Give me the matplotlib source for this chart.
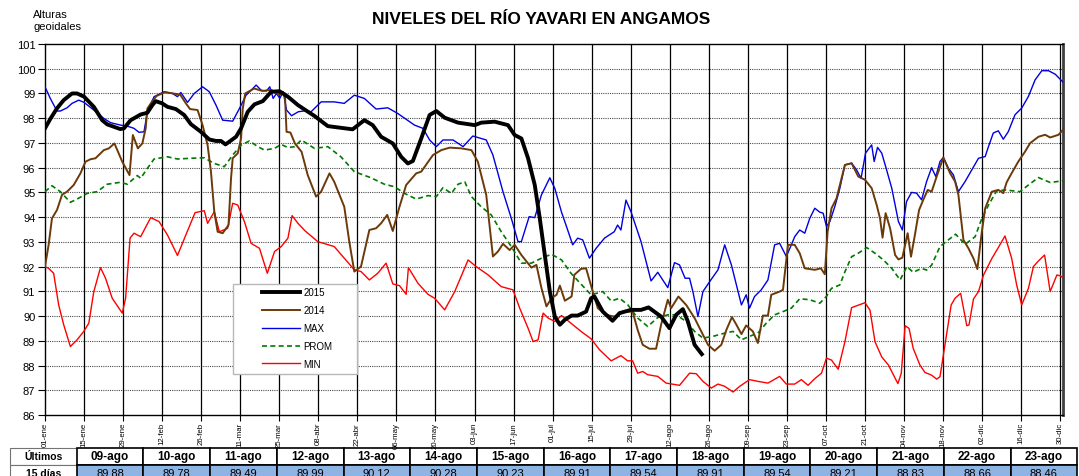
import numpy as np
from matplotlib import pyplot
from matplotlib.patches import Rectangle

pyplot.rcParams['font.family'] = ['Liberation Sans', 'DejaVu Sans']

# ---- data (day of year, level in m) ----
tick_labels = ['01-ene', '15-ene', '29-ene', '12-feb', '26-feb', '11-mar', '25-mar', '08-abr',
               '22-abr', '06-may', '20-may', '03-jun', '17-jun', '01-jul', '15-jul', '29-jul',
               '12-ago', '26-ago', '09-sep', '23-sep', '07-oct', '21-oct', '04-nov', '18-nov',
               '02-dic', '16-dic', '30-dic']

d2015 = [0, 2, 4.3, 6.7, 9.7, 11.5, 14, 17.5, 20.5, 22.3, 27, 28.3, 30.7, 34.3, 36.7, 38.5, 39.7,
         42, 43.9, 46.9, 49.9, 52.3, 55.9, 58.9, 61.3, 63.1, 64.7, 66.1, 68.5, 70.3, 72.7, 75.1,
         78.1, 81.1, 84.1, 87.1, 90.7, 94.3, 96.5, 101.4, 110.3, 114.5, 117.5, 120.5, 124.7, 127.7,
         130.1, 131.9, 134.9, 137.9, 140.3, 143.3, 148.1, 154.1, 156.4, 161.2, 166, 168.4, 170.8,
         173.2, 175.6, 177.4, 179.2, 181, 182.8, 184.6, 186.4, 188.8, 191, 194, 195.8, 197, 200,
         203.5, 206, 210.1, 213.7, 216.4, 220.9, 223.9, 226.3, 228.7, 230.5, 232.9, 235.5]
v2015 = [97.59, 97.99, 98.4, 98.73, 99.0, 99.0, 98.87, 98.46, 97.92, 97.75, 97.56, 97.59, 97.92,
         98.15, 98.22, 98.53, 98.69, 98.6, 98.46, 98.37, 98.13, 97.76, 97.45, 97.14, 97.08, 97.08,
         96.94, 97.05, 97.25, 97.59, 98.26, 98.56, 98.69, 99.07, 99.09, 98.87, 98.53, 98.26, 98.1,
         97.68, 97.55, 97.92, 97.72, 97.25, 96.98, 96.44, 96.17, 96.27, 97.18, 98.13, 98.29, 98.02,
         97.82, 97.72, 97.82, 97.86, 97.72, 97.32, 97.18, 96.38, 95.3, 93.95, 92.47, 91.0, 89.98,
         89.65, 89.85, 90.02, 90.02, 90.18, 90.72, 90.79, 90.18, 89.81, 90.12, 90.25, 90.25, 90.35,
         89.98, 89.51, 90.05, 90.28, 89.78, 88.84, 88.46]

d2014 = [0, 1.3, 2.5, 4.3, 6.1, 7.9, 10.3, 12.7, 14.5, 16.3, 18.1, 21.1, 22.9, 24.9, 27.7, 30.3,
         31.5, 33.3, 34.9, 36.1, 36.7, 38.5, 40, 43, 46, 48.5, 50.5, 52, 54.7, 56.5, 58.3, 59.5,
         60.7, 61.9, 63.7, 65.8, 66.7, 67.3, 69.1, 70.3, 70.9, 71.8, 75, 78, 81, 84, 86, 86.6, 88,
         89.6, 92, 94.2, 97.2, 99, 102, 103.7, 107.3, 109.1, 110.9, 113.3, 116.3, 118.7, 120.5,
         122.7, 124.7, 127.1, 129.5, 133.1, 134.9, 139.1, 142.1, 145.1, 149.3, 152.9, 155.2, 158.2,
         160.6, 162.4, 164.2, 166.6, 168.4, 170.8, 174.4, 176.2, 178, 179.8, 181.6, 183.4, 184.6,
         186.4, 188.8, 189.8, 192.2, 194, 196.4, 198.2, 201.1, 204.1, 207.7, 210.7, 212.5, 214.3,
         216.7, 219.1, 220.9, 223.3, 224.5, 227.1, 229.9, 232.9, 235.3, 237.7, 240.1, 242.5, 244.3,
         246.3, 247.9, 249.7, 251.4, 253.8, 255.6, 257.4, 259.2, 260.4, 263.4, 264.6, 266.4, 268.8,
         270.6, 272.4, 276, 278.2, 279.6, 280.6, 282, 283.8, 285.6, 286.8, 289.2, 291.6, 294, 296.4,
         298.2, 299.4, 300.3, 301.4, 303, 304.8, 306, 307.4, 309.3, 310.5, 311.9, 313.4, 314.9,
         316.5, 317.9, 319.7, 322.1, 324.5, 326.3, 327.5, 329.3, 331.1, 332.9, 334.3, 335.9, 337.1,
         339.5, 341.8, 343.6, 344.8, 346.6, 349, 351.4, 353.2, 356.2, 358.6, 360.4, 363.4, 365]
v2014 = [92.0, 92.88, 93.95, 94.29, 94.9, 95.03, 95.3, 95.77, 96.24, 96.34, 96.38, 96.71, 96.78,
         96.98, 96.24, 95.7, 97.32, 96.78, 96.98, 97.59, 98.39, 98.69, 98.9, 99.05, 99.0, 98.95,
         98.6, 98.37, 98.33, 97.72, 96.91, 95.84, 94.22, 93.41, 93.35, 93.68, 95.57, 96.38, 96.58,
         97.18, 98.39, 99.0, 99.2, 99.1, 99.15, 98.95, 99.0, 97.45, 97.42, 96.98, 96.64, 95.7,
         94.83, 95.03, 95.77, 95.43, 94.42, 93.01, 91.8, 92.0, 93.48, 93.55, 93.75, 94.09, 93.44,
         94.42, 95.3, 95.77, 95.84, 96.51, 96.71, 96.81, 96.78, 96.71, 96.24, 94.9, 92.41, 92.61,
         92.92, 92.67, 92.88, 92.47, 91.96, 92.07, 91.13, 90.39, 90.72, 90.86, 91.23, 90.62, 90.79,
         91.67, 91.91, 91.93, 90.99, 90.32, 90.05, 89.98, 90.18, 90.18, 89.44, 88.84, 88.68, 88.68,
         89.65, 90.66, 90.32, 90.79, 90.45, 89.92, 89.38, 88.84, 88.6, 88.84, 89.44, 89.96, 89.65,
         89.27, 89.62, 89.38, 88.91, 90.02, 90.02, 90.86, 90.99, 91.06, 92.88, 92.88, 92.54, 91.93,
         91.87, 91.93, 91.69, 93.41, 94.36, 94.76, 95.57, 96.11, 96.18, 95.64, 95.51, 95.17, 94.49,
         93.95, 93.17, 94.16, 93.55, 92.47, 92.29, 92.36, 93.35, 92.4, 93.28, 94.29, 94.7, 95.1,
         95.03, 95.64, 96.41, 95.78, 95.44, 94.9, 93.08, 92.74, 92.33, 91.9, 93.41, 94.36, 95.03,
         95.1, 94.97, 95.41, 95.78, 96.25, 96.65, 96.99, 97.25, 97.33, 97.22, 97.33, 97.53]

dmax = [0, 1.9, 4.3, 5.5, 7.9, 9.7, 12.1, 14, 17.5, 21.1, 23.5, 27.1, 29.5, 31.9, 33.7, 35.5,
        36.7, 39.1, 42.7, 45.7, 47.5, 48.7, 51.1, 53.5, 56.5, 58.9, 61.3, 63.7, 67.3, 69.7, 72.1,
        73.9, 75.7, 77.5, 79.4, 80.6, 81.8, 83, 84.2, 85.4, 86.6, 88.4, 90.8, 93.2, 95.4, 99,
        103.7, 107.3, 110.9, 114.5, 118.7, 122.9, 126.5, 132.5, 135.5, 137.9, 140.3, 142.7, 146.3,
        149.9, 153.4, 158.2, 160.6, 164.2, 167.2, 169.6, 170.8, 173.6, 175.6, 178, 181, 182.8,
        185.2, 186.8, 189.2, 191, 192.8, 195.2, 197.6, 200.6, 204.1, 205.3, 206.5, 208.3, 210.1,
        213.7, 217.3, 219.7, 223.3, 225.7, 227.5, 229.5, 231.1, 232.3, 234.1, 235.9, 238.3, 241.3,
        243.7, 246.1, 249.7, 251.4, 252.6, 254.4, 256.8, 259.2, 261.6, 263.4, 265.8, 267.6, 268.8,
        270.6, 272.4, 274.2, 276, 277.8, 279, 280.2, 281.4, 283.2, 285, 286.8, 289.2, 291, 292.6,
        294.2, 296.4, 297.3, 298.5, 300, 301.4, 303.6, 306, 307.4, 308.9, 310.7, 312.5, 314.3,
        316.1, 317.9, 319.4, 320.9, 322.1, 323.9, 325.7, 327.5, 329.9, 332.3, 334.7, 337.1, 338.3,
        340, 341.8, 343.6, 345.4, 347.8, 350.2, 352.6, 355, 357.4, 359.8, 362.2, 365]
vmax = [99.27, 98.8, 98.29, 98.29, 98.42, 98.6, 98.73, 98.64, 98.33, 97.99, 97.82, 97.72, 97.68,
        97.59, 97.43, 97.45, 98.26, 98.87, 99.07, 99.0, 98.87, 99.04, 98.64, 99.0, 99.27, 99.07,
        98.53, 97.92, 97.88, 98.39, 98.93, 99.13, 99.34, 99.13, 99.1, 99.27, 98.8, 99.0, 98.8,
        99.07, 98.33, 98.1, 98.26, 98.3, 98.26, 98.66, 98.66, 98.6, 98.93, 98.8, 98.37, 98.42,
        98.19, 97.72, 97.59, 97.12, 96.85, 97.12, 97.12, 96.85, 97.28, 97.12, 96.51, 95.03, 93.95,
        93.01, 93.01, 94.02, 93.98, 94.9, 95.59, 95.16, 94.2, 93.68, 92.88, 93.15, 93.08, 92.34,
        92.74, 93.15, 93.41, 93.68, 93.48, 94.69, 94.22, 93.01, 91.42, 91.77, 91.15, 92.16, 92.07,
        91.53, 91.53, 90.99, 89.98, 90.99, 91.39, 91.87, 92.88, 92.07, 90.45, 90.86, 90.32, 90.79,
        91.06, 91.46, 92.88, 92.94, 92.41, 92.88, 93.21, 93.48, 93.35, 93.95, 94.36, 94.2, 94.16,
        93.62, 93.82, 94.43, 95.17, 96.11, 96.18, 95.91, 95.57, 96.59, 96.92, 96.25, 96.82, 96.59,
        96.05, 95.17, 93.82, 93.48, 94.63, 95.0, 94.97, 94.7, 95.44, 96.0, 95.64, 96.25, 96.41,
        95.98, 95.71, 95.03, 95.44, 95.91, 96.38, 96.45, 96.86, 97.4, 97.49, 97.15, 97.46, 98.14,
        98.41, 98.88, 99.55, 99.92, 99.92, 99.78, 99.46]

dprom = [0, 2.5, 5.5, 9.1, 11.5, 15.1, 18.7, 22.3, 27.1, 29.5, 33.1, 34.3, 36.7, 39.1, 43.9, 47.5,
         52.3, 57.1, 60.7, 64.3, 67.3, 70.3, 73.3, 76.3, 78.7, 82.3, 84.7, 87.1, 89.5, 91.9, 96.6,
         101.4, 106.1, 110.9, 116.9, 121.7, 125.3, 128.9, 133.1, 137.3, 140.3, 142.7, 145.7, 148.1,
         150.5, 152.9, 156.4, 160, 163.6, 167.2, 170.8, 174.4, 178, 181.6, 185.2, 188.6, 192.2,
         195.8, 200, 203, 206, 209, 212.5, 216.1, 219.7, 223.3, 226.3, 229.9, 232.9, 235.9, 239.5,
         243.7, 246.7, 249.7, 252.6, 255.6, 258.6, 261.6, 264.6, 267.6, 270.6, 274.2, 277.8, 280.2,
         282, 285, 286.8, 289.2, 291.6, 294.6, 297.6, 300.6, 303.6, 306.6, 309, 311.3, 314.3, 316.1,
         317.9, 320.9, 323.9, 326.5, 329.9, 333.5, 335.9, 338.3, 341.2, 344.2, 349.6, 352.6, 356.2,
         360.4, 365]
vprom = [95.03, 95.27, 95.03, 94.6, 94.73, 94.96, 95.03, 95.33, 95.41, 95.33, 95.68, 95.57, 95.97,
         96.35, 96.44, 96.35, 96.38, 96.4, 96.17, 96.04, 96.51, 96.91, 97.08, 96.85, 96.71, 96.78,
         96.94, 96.81, 96.85, 97.12, 96.78, 96.85, 96.44, 95.84, 95.59, 95.33, 95.23, 94.96, 94.73,
         94.87, 94.83, 95.19, 94.96, 95.33, 95.43, 94.83, 94.42, 94.09, 93.41, 92.81, 92.14, 92.14,
         92.34, 92.5, 92.27, 91.73, 91.29, 90.86, 90.99, 90.61, 90.72, 90.45, 89.92, 89.58, 89.94,
         90.05, 90.05, 89.78, 89.38, 89.11, 89.18, 89.31, 89.38, 89.04, 89.18, 89.31, 89.71, 90.05,
         90.18, 90.32, 90.7, 90.66, 90.52, 90.8, 91.12, 91.26, 91.79, 92.4, 92.54, 92.77, 92.54,
         92.27, 91.93, 91.46, 92.0, 91.77, 91.93, 91.86, 92.06, 92.81, 93.08, 93.31, 92.9, 93.21,
         93.95, 94.49, 95.06, 95.1, 95.03, 95.3, 95.6, 95.4, 95.47]

dmin = [0, 1.3, 3.1, 4.9, 6.7, 9.1, 11.5, 13.9, 15.7, 17.5, 19.9, 21.7, 24.1, 27.7, 28.9, 30.5,
        31.9, 34.3, 37.9, 40.9, 43.9, 47.5, 50.5, 53.8, 57.1, 58.3, 60.7, 62.5, 65.5, 67.3, 69.1,
        71.5, 73.9, 76.9, 79.7, 82.3, 84.7, 87.1, 88.6, 90.7, 93.2, 97.8, 103.7, 107.3, 110.9,
        113.3, 116.3, 119.3, 122.3, 124.7, 127.1, 129.5, 130.3, 133.7, 137.3, 139.7, 143.3, 146.9,
        151.7, 154.6, 158.8, 163.6, 167.8, 170.2, 173.2, 175, 176.8, 178.6, 180.4, 182.8, 185.2,
        188.6, 192.2, 195.8, 198.8, 203, 206.5, 208.9, 210.7, 212.5, 214.3, 216.1, 219.7, 222.7,
        227.5, 231.1, 233.5, 235.9, 238.9, 241.3, 243.7, 246.7, 249.1, 252.6, 255.6, 259.2, 263.4,
        265.8, 268.8, 271.2, 273.6, 276, 278.4, 280.2, 282, 284.4, 286.8, 289.2, 294, 295.8, 297.6,
        300, 302.4, 305.8, 307, 308.4, 309.8, 311.3, 313.7, 315.5, 317.9, 319.7, 320.9, 322.7,
        324.9, 326.3, 328.3, 330.5, 331.3, 332.9, 334.7, 336.5, 339.5, 341.8, 344.2, 346.6, 348.4,
        350.2, 352.6, 354.4, 356.2, 358.4, 360.4, 362.8, 364, 365]
vmin = [92.0, 91.93, 91.73, 90.45, 89.65, 88.77, 89.04, 89.38, 89.71, 90.99, 91.96, 91.53, 90.72,
        90.12, 90.72, 93.15, 93.35, 93.21, 93.98, 93.82, 93.28, 92.45, 93.28, 94.18, 94.26, 93.75,
        94.22, 93.41, 93.55, 94.56, 94.49, 93.82, 92.94, 92.74, 91.73, 92.61, 92.81, 93.15, 94.06,
        93.75, 93.45, 93.01, 92.81, 92.34, 91.87, 91.8, 91.46, 91.73, 92.14, 91.3, 91.23, 90.88,
        91.96, 91.33, 90.88, 90.72, 90.25, 90.99, 92.27, 92.0, 91.67, 91.19, 91.06, 90.32, 89.51,
        88.97, 89.04, 90.12, 89.92, 89.78, 90.02, 89.71, 89.38, 89.08, 88.64, 88.19, 88.4, 88.19,
        88.19, 87.69, 87.76, 87.63, 87.56, 87.29, 87.2, 87.69, 87.67, 87.36, 87.09, 87.25, 87.16,
        86.93, 87.16, 87.43, 87.36, 87.29, 87.56, 87.25, 87.25, 87.43, 87.2, 87.47, 87.69, 88.3,
        88.22, 87.85, 88.96, 90.34, 90.54, 90.24, 88.96, 88.35, 88.02, 87.27, 87.68, 89.61, 89.5,
        88.69, 88.02, 87.72, 87.61, 87.45, 87.55, 88.86, 90.45, 90.72, 90.92, 89.61, 89.64, 90.69,
        90.99, 91.66, 92.33, 92.77, 93.24, 92.33, 91.25, 90.45, 91.12, 92.0, 92.23, 92.47, 90.99,
        91.66, 91.63, 91.55]

# last 15 days table
table_dates = ['09-ago', '10-ago', '11-ago', '12-ago', '13-ago', '14-ago', '15-ago', '16-ago',
               '17-ago', '18-ago', '19-ago', '20-ago', '21-ago', '22-ago', '23-ago']
table_values = [89.88, 89.78, 89.49, 89.99, 90.12, 90.28, 90.23, 89.91, 89.54, 89.91, 89.54,
                89.21, 88.83, 88.66, 88.46]

W, H = 1079, 477
fig = pyplot.figure(figsize=(W / 100, H / 100), dpi=100)
ax = fig.add_axes([45 / W, 1 - 416 / H, (1063 - 45) / W, (416 - 45) / H])

ax.plot(dmin, vmin, color='#FF0000', lw=1.0, label='MIN', zorder=3)
ax.plot(dprom, vprom, color='#007A00', lw=1.2, ls=(0, (3, 2)), label='PROM', zorder=3)
ax.plot(dmax, vmax, color='#0000E0', lw=1.0, label='MAX', zorder=3)
ax.plot(d2014, v2014, color='#6B3A0A', lw=1.4, label='2014', zorder=4)
ax.plot(d2015, v2015, color='black', lw=2.8, label='2015', zorder=5)

ax.set_xlim(0, 365)
ax.set_ylim(86, 101)
ax.set_yticks(np.arange(86, 102, 1))
ax.set_yticklabels([str(v) for v in range(86, 102)], fontsize=8)
ax.set_xticks(np.arange(0, 365, 14))
ax.set_xticklabels(tick_labels, rotation=90, fontsize=5.6)
ax.tick_params(axis='y', direction='out', length=5, width=0.8, color='black', pad=2)
ax.tick_params(axis='x', direction='out', length=4, width=0.8, color='black', pad=1)

for v in range(87, 101):
    ax.axhline(v, color='0.3', lw=0.8, ls=(0, (1, 1)), zorder=1)
for d in range(14, 365, 14):
    ax.axvline(d, color='black', lw=0.9, zorder=1)

for s in ['left', 'bottom', 'top']:
    ax.spines[s].set_color('black')
    ax.spines[s].set_linewidth(1.0)
ax.spines['right'].set_color('0.25')
ax.spines['right'].set_linewidth(2.0)

# legend: frame drawn by hand so its padding matches
px_x = lambda x: (x - 45) / 1018
px_y = lambda y: (416 - y) / 371
ax.add_patch(Rectangle((px_x(233), px_y(375)), px_x(357) - px_x(233), px_y(285) - px_y(375),
                       transform=ax.transAxes, facecolor='white', edgecolor='0.72', lw=1.0,
                       zorder=6))
handles, labels = ax.get_legend_handles_labels()
order = [4, 3, 2, 1, 0]
leg = ax.legend([handles[i] for i in order], [labels[i] for i in order],
                loc='upper left', bbox_to_anchor=(px_x(262), px_y(288)), fontsize=7,
                handlelength=3.9, handletextpad=0.35, labelspacing=0.82, borderpad=0,
                borderaxespad=0, frameon=False)
leg.set_zorder(7)

fig.text(541 / W, 1 - 20 / H, 'NIVELES DEL RÍO YAVARI EN ANGAMOS', ha='center', va='center',
         fontsize=12.5, fontweight='bold')
fig.text(33 / W, 1 - 15 / H, 'Alturas', ha='left', va='center', fontsize=8)
fig.text(33 / W, 1 - 27 / H, 'geoidales', ha='left', va='center', fontsize=8)

# table with the last 15 days (drawn below the axes so tick labels stay on top)
tab = fig.add_axes([0, 0, 1, 1], facecolor='none', zorder=-1)
tab.set_xlim(0, W)
tab.set_ylim(H, 0)
tab.axis('off')
x0, cw0, cw = 10, 66.7, 66.7
y_top, rh = 449, 17
tab.add_patch(Rectangle((x0, y_top), cw0, rh, facecolor='white', edgecolor='0.45', lw=0.8))
tab.add_patch(Rectangle((x0, y_top + rh), cw0, rh, facecolor='white', edgecolor='0.45', lw=0.8))
tab.text(x0 + cw0 / 2, y_top + rh / 2, 'Últimos', ha='center', va='center', fontsize=7.5,
         fontweight='bold')
tab.text(x0 + cw0 / 2, y_top + rh * 1.45, '15 días', ha='center', va='center', fontsize=7.5,
         fontweight='bold')
for i, (dt, val) in enumerate(zip(table_dates, table_values)):
    xl = x0 + cw0 + i * cw
    tab.add_patch(Rectangle((xl, y_top), cw, rh, facecolor='white', edgecolor='black', lw=1.2))
    tab.add_patch(Rectangle((xl, y_top + rh), cw, rh, facecolor='#8DB4E2', edgecolor='black',
                            lw=1.2))
    tab.text(xl + cw / 2, y_top + rh / 2, dt, ha='center', va='center', fontsize=8.5,
             fontweight='bold')
    tab.text(xl + cw / 2, y_top + rh * 1.45, '%.2f' % val, ha='center', va='center',
             fontsize=8)

fig.savefig('out.png', dpi=100)
